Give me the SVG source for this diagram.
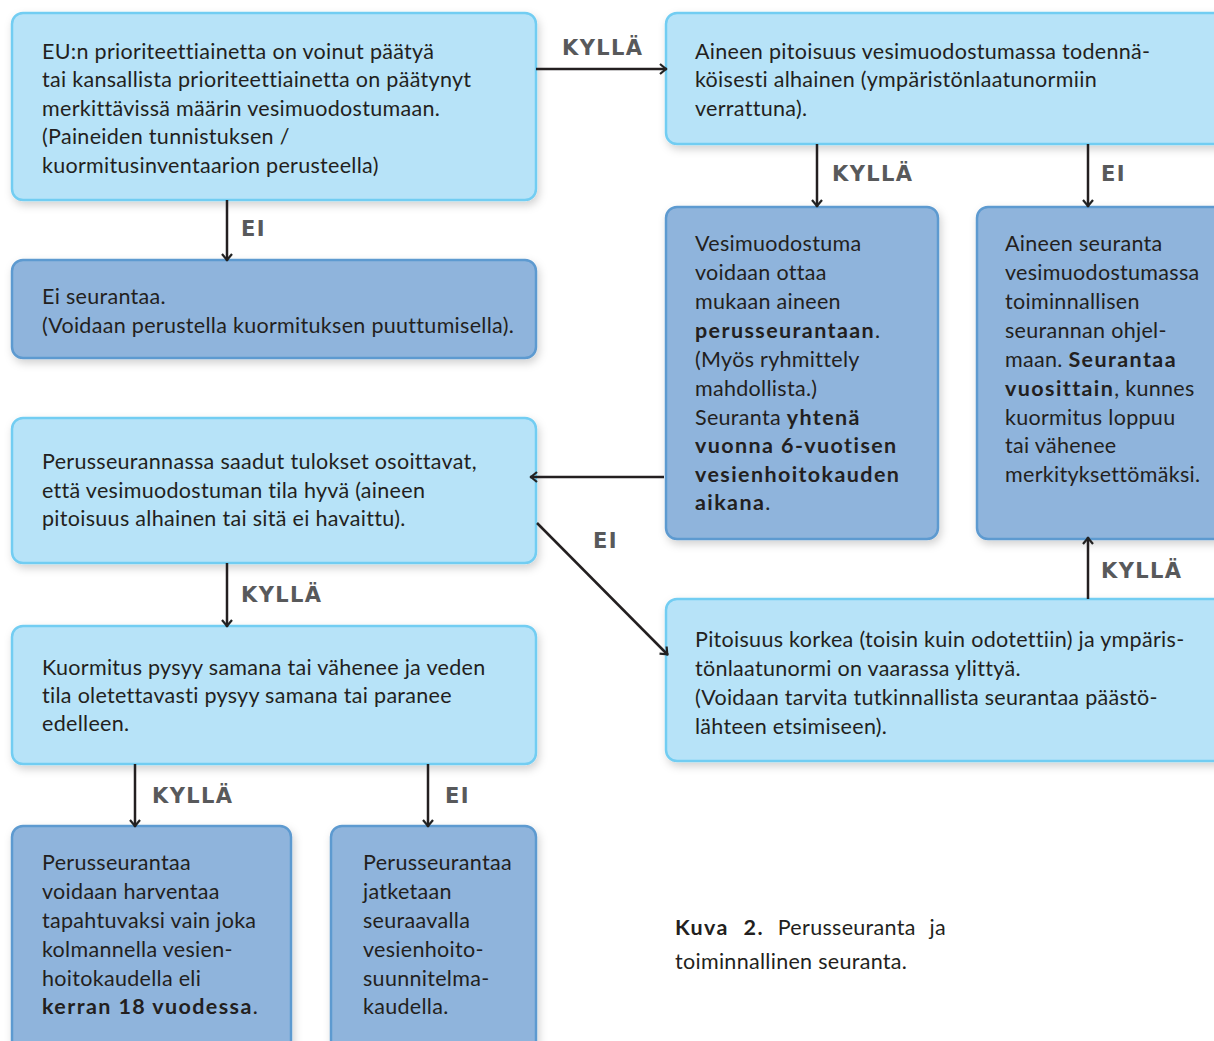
<svg xmlns="http://www.w3.org/2000/svg" width="1214" height="1041" viewBox="0 0 1214 1041">
  <defs>
    <filter id="shadow" x="-10%" y="-10%" width="120%" height="130%">
      <feDropShadow dx="2" dy="4" stdDeviation="4" flood-color="#000" flood-opacity="0.18"/>
    </filter>
    <marker id="arrow" viewBox="0 0 12 12" refX="11" refY="6" markerWidth="12" markerHeight="12" markerUnits="userSpaceOnUse" orient="auto">
      <path d="M4,1 L10,6 L4,11" fill="none" stroke="#222" stroke-width="2.2"/>
    </marker>
  </defs>
  <style>
    .light { fill: #b7e3f8; stroke: #72cdf2; stroke-width: 2.5; filter: url(#shadow); }
    .dark { fill: #8fb4dc; stroke: #5d9ad0; stroke-width: 2.5; filter: url(#shadow); }
    .txt { font-family: Lato, "Open Sans", sans-serif; font-size: 21.5px; letter-spacing: 0.3px; fill: #231f20; }
    .b { font-weight: bold; letter-spacing: 1.4px; }
    .lbl { font-family: "DejaVu Sans", sans-serif; font-size: 21px; letter-spacing: 1.4px; font-weight: bold; fill: #58595b; }
    .conn { stroke: #231f20; stroke-width: 2.5; fill: none; marker-end: url(#arrow); }
  </style>
  <rect width="1214" height="1041" fill="#fff"/>

  <g id="n-eu">
    <rect class="light" x="12" y="13" width="524" height="187" rx="11"/>
    <text class="txt" x="42" y="59">EU:n prioriteettiainetta on voinut päätyä</text>
    <text class="txt" x="42" y="87">tai kansallista prioriteettiainetta on päätynyt</text>
    <text class="txt" x="42" y="116">merkittävissä määrin vesimuodostumaan.</text>
    <text class="txt" x="42" y="144">(Paineiden tunnistuksen /</text>
    <text class="txt" x="42" y="173">kuormitusinventaarion perusteella)</text>
  </g>

  <g id="n-pitoisuus-alhainen">
    <rect class="light" x="666" y="13" width="570" height="131" rx="11"/>
    <text class="txt" x="695" y="59">Aineen pitoisuus vesimuodostumassa todennä-</text>
    <text class="txt" x="695" y="87">köisesti alhainen (ympäristönlaatunormiin</text>
    <text class="txt" x="695" y="116">verrattuna).</text>
  </g>

  <g id="n-ei-seurantaa">
    <rect class="dark" x="12" y="260" width="524" height="98" rx="11"/>
    <text class="txt" x="42" y="304">Ei seurantaa.</text>
    <text class="txt" x="42" y="333">(Voidaan perustella kuormituksen puuttumisella).</text>
  </g>

  <g id="n-perusseuranta">
    <rect class="dark" x="666" y="207" width="272" height="332" rx="11"/>
    <text class="txt" x="695" y="251">Vesimuodostuma</text>
    <text class="txt" x="695" y="280">voidaan ottaa</text>
    <text class="txt" x="695" y="309">mukaan aineen</text>
    <text class="txt" x="695" y="338"><tspan class="b">perusseurantaan</tspan>.</text>
    <text class="txt" x="695" y="367">(Myös ryhmittely</text>
    <text class="txt" x="695" y="396">mahdollista.)</text>
    <text class="txt" x="695" y="425">Seuranta <tspan class="b">yhtenä</tspan></text>
    <text class="txt" x="695" y="453"><tspan class="b">vuonna 6-vuotisen</tspan></text>
    <text class="txt" x="695" y="482"><tspan class="b">vesienhoitokauden</tspan></text>
    <text class="txt" x="695" y="510"><tspan class="b">aikana</tspan>.</text>
  </g>

  <g id="n-toiminnallinen">
    <rect class="dark" x="977" y="207" width="260" height="332" rx="11"/>
    <text class="txt" x="1005" y="251">Aineen seuranta</text>
    <text class="txt" x="1005" y="280">vesimuodostumassa</text>
    <text class="txt" x="1005" y="309">toiminnallisen</text>
    <text class="txt" x="1005" y="338">seurannan ohjel-</text>
    <text class="txt" x="1005" y="367">maan. <tspan class="b">Seurantaa</tspan></text>
    <text class="txt" x="1005" y="396"><tspan class="b">vuosittain</tspan>, kunnes</text>
    <text class="txt" x="1005" y="425">kuormitus loppuu</text>
    <text class="txt" x="1005" y="453">tai vähenee</text>
    <text class="txt" x="1005" y="482">merkityksettömäksi.</text>
  </g>

  <g id="n-tulokset">
    <rect class="light" x="12" y="418" width="524" height="145" rx="11"/>
    <text class="txt" x="42" y="469">Perusseurannassa saadut tulokset osoittavat,</text>
    <text class="txt" x="42" y="498">että vesimuodostuman tila hyvä (aineen</text>
    <text class="txt" x="42" y="526">pitoisuus alhainen tai sitä ei havaittu).</text>
  </g>

  <g id="n-pitoisuus-korkea">
    <rect class="light" x="666" y="599" width="570" height="162" rx="11"/>
    <text class="txt" x="695" y="647">Pitoisuus korkea (toisin kuin odotettiin) ja ympäris-</text>
    <text class="txt" x="695" y="676">tönlaatunormi on vaarassa ylittyä.</text>
    <text class="txt" x="695" y="705">(Voidaan tarvita tutkinnallista seurantaa päästö-</text>
    <text class="txt" x="695" y="734">lähteen etsimiseen).</text>
  </g>

  <g id="n-kuormitus">
    <rect class="light" x="12" y="626" width="524" height="138" rx="11"/>
    <text class="txt" x="42" y="675">Kuormitus pysyy samana tai vähenee ja veden</text>
    <text class="txt" x="42" y="703">tila oletettavasti pysyy samana tai paranee</text>
    <text class="txt" x="42" y="731">edelleen.</text>
  </g>

  <g id="n-harventaa">
    <rect class="dark" x="12" y="826" width="279" height="240" rx="11"/>
    <text class="txt" x="42" y="870">Perusseurantaa</text>
    <text class="txt" x="42" y="899">voidaan harventaa</text>
    <text class="txt" x="42" y="928">tapahtuvaksi vain joka</text>
    <text class="txt" x="42" y="957">kolmannella vesien-</text>
    <text class="txt" x="42" y="986">hoitokaudella eli</text>
    <text class="txt" x="42" y="1014"><tspan class="b">kerran 18 vuodessa</tspan>.</text>
  </g>

  <g id="n-jatketaan">
    <rect class="dark" x="331" y="826" width="205" height="240" rx="11"/>
    <text class="txt" x="363" y="870">Perusseurantaa</text>
    <text class="txt" x="363" y="899">jatketaan</text>
    <text class="txt" x="363" y="928">seuraavalla</text>
    <text class="txt" x="363" y="957">vesienhoito-</text>
    <text class="txt" x="363" y="986">suunnitelma-</text>
    <text class="txt" x="363" y="1014">kaudella.</text>
  </g>

  <g id="caption">
    <text class="txt" x="675" y="935" word-spacing="8"><tspan class="b">Kuva 2.</tspan> Perusseuranta ja</text>
    <text class="txt" x="675" y="969">toiminnallinen seuranta.</text>
  </g>

  <!-- connectors drawn last so arrowheads sit on top of box edges -->
  <g id="connectors">
    <line class="conn" x1="536" y1="69" x2="667" y2="69"/>
    <line class="conn" x1="227" y1="200" x2="227" y2="261"/>
    <line class="conn" x1="817" y1="144" x2="817" y2="207"/>
    <line class="conn" x1="1088" y1="144" x2="1088" y2="207"/>
    <line class="conn" x1="664" y1="477" x2="530" y2="477"/>
    <line class="conn" x1="537" y1="523" x2="668" y2="655"/>
    <line class="conn" x1="1088" y1="599" x2="1088" y2="537"/>
    <line class="conn" x1="227" y1="563" x2="227" y2="627"/>
    <line class="conn" x1="135" y1="764" x2="135" y2="827"/>
    <line class="conn" x1="428" y1="764" x2="428" y2="827"/>
    <text class="lbl" x="562" y="55">KYLLÄ</text>
    <text class="lbl" x="241" y="236">EI</text>
    <text class="lbl" x="832" y="181">KYLLÄ</text>
    <text class="lbl" x="1101" y="181">EI</text>
    <text class="lbl" x="593" y="548">EI</text>
    <text class="lbl" x="1101" y="578">KYLLÄ</text>
    <text class="lbl" x="241" y="602">KYLLÄ</text>
    <text class="lbl" x="152" y="803">KYLLÄ</text>
    <text class="lbl" x="445" y="803">EI</text>
  </g>
</svg>
